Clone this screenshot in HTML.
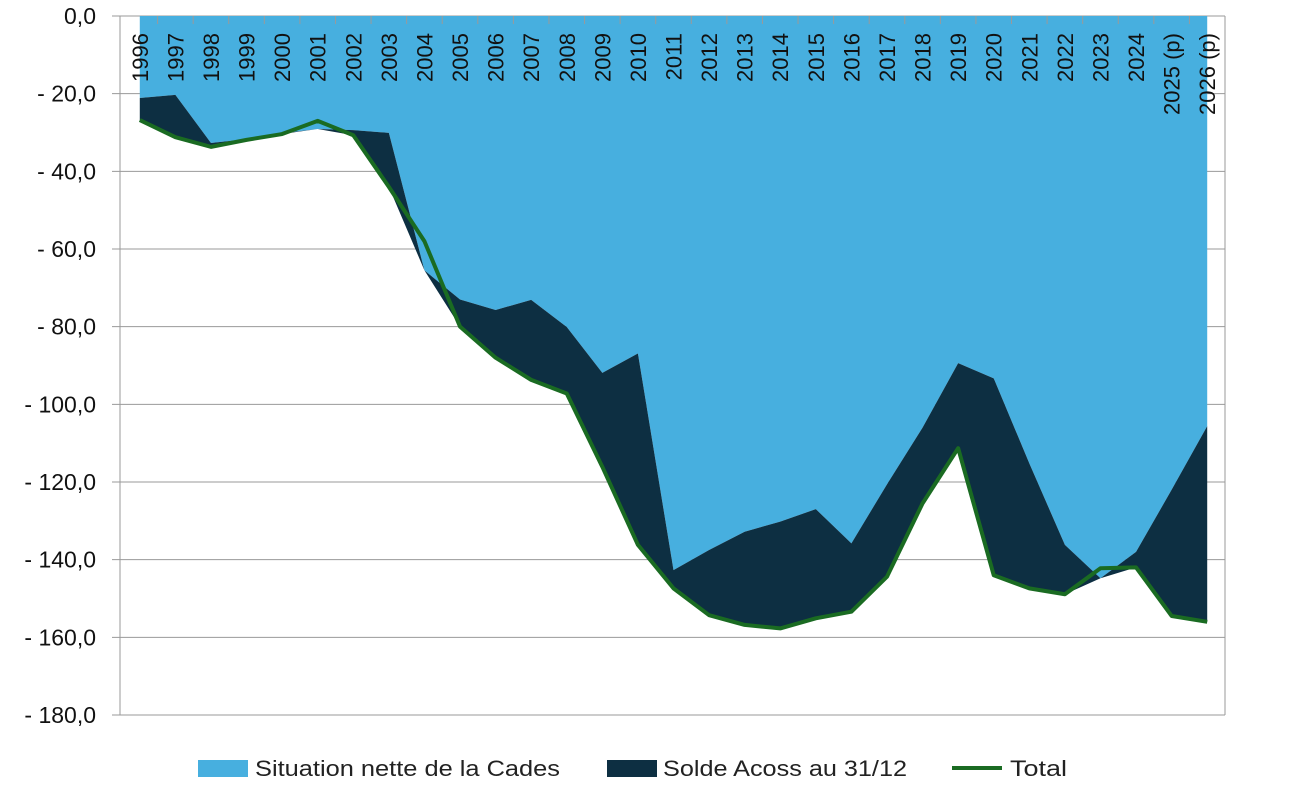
<!DOCTYPE html>
<html><head><meta charset="utf-8"><style>
html,body{margin:0;padding:0;background:#fff;}
svg{display:block;font-family:"Liberation Sans",sans-serif;}
</style></head><body>
<svg id="chart" width="1300" height="802" viewBox="0 0 1300 802">
<g id="grid"></g><g id="areas"></g><g id="line"></g><g id="axes"></g><g id="xlabels"></g><g id="ylabels"></g>
<g id="legend">
 <rect x="198" y="760" width="50" height="17" fill="#47AFDF"/>
 <text x="255" y="776" font-size="22" textLength="305" lengthAdjust="spacingAndGlyphs" fill="#222">Situation nette de la Cades</text>
 <rect x="607" y="760" width="50" height="17" fill="#0D2F42"/>
 <text x="663" y="776" font-size="22" textLength="244" lengthAdjust="spacingAndGlyphs" fill="#222">Solde Acoss au 31/12</text>
 <line x1="952" y1="768" x2="1002" y2="768" stroke="#1A6B22" stroke-width="4"/>
 <text x="1010" y="776" font-size="22" textLength="57" lengthAdjust="spacingAndGlyphs" fill="#222">Total</text>
</g>
</svg>
<script>
const years = ["1996","1997","1998","1999","2000","2001","2002","2003","2004","2005","2006","2007","2008","2009","2010","2011","2012","2013","2014","2015","2016","2017","2018","2019","2020","2021","2022","2023","2024","2025 (p)","2026 (p)"];
const cades = [-21.1,-20.3,-32.7,-31.7,-30.2,-29.1,-29.4,-30.1,-65.5,-73,-75.7,-73.1,-80.1,-91.9,-86.9,-142.7,-137.5,-132.8,-130.2,-127,-135.8,-120.6,-106,-89.4,-93.3,-115.2,-136.2,-144.8,-138,-122,-105.6];
const acoss = [-5.7,-10.9,-1.0,-0.2,-0.2,2.1,-1.3,-13.9,7.5,-7,-12.3,-20.6,-17.1,-24.2,-49.3,-4.7,-16.8,-24,-27.5,-28.1,-17.6,-23.8,-19.5,-21.9,-50.7,-32.2,-12.7,2.6,-4,-32.5,-50.4];
const yTicks = [0,-20,-40,-60,-80,-100,-120,-140,-160,-180];

const L=122,R=1225,T=16,B=715,yMin=-180,yMax=0;
const n=years.length, band=(R-L)/n;
const X=i=>L+band*(i+0.5);
const Y=v=>T+(yMax-v)/(yMax-yMin)*(B-T);
const NS="http://www.w3.org/2000/svg";
function mk(tag,parent,attrs){const e=document.createElementNS(NS,tag);for(const k in attrs)e.setAttribute(k,attrs[k]);document.getElementById(parent).appendChild(e);return e;}

yTicks.forEach(t=>{
  const g=mk('line','grid',{x1:112,x2:R,y1:Y(t),y2:Y(t),stroke:'#9a9a9a','stroke-width':1});
  
  
  const lab=(t===0?"0,0":"- "+Math.abs(t)+",0");
  const tx=mk('text','ylabels',{x:96,y:Y(t)+8,'text-anchor':'end','font-size':23,fill:'#111'});
  tx.textContent=lab;
  
  
});

let p="M"+X(0)+","+Y(0);
cades.forEach((v,i)=>p+=" L"+X(i)+","+Y(v));
p+=" L"+X(n-1)+","+Y(0)+" Z";
const a1=mk('path','areas',{d:p,fill:'#47AFDF'});


let q="M"+X(0)+","+Y(cades[0]);
cades.forEach((v,i)=>q+=" L"+X(i)+","+Y(v));
for(let i=n-1;i>=0;i--)q+=" L"+X(i)+","+Y(cades[i]+Math.min(0,acoss[i]));
q+=" Z";
const a2=mk('path','areas',{d:q,fill:'#0D2F42'});


const tot=cades.map((v,i)=>v+acoss[i]);
const ln=mk('polyline','line',{points:tot.map((v,i)=>X(i)+","+Y(v)).join(" "),fill:'none',stroke:'#1A6B22','stroke-width':4,'stroke-linejoin':'round'});



const ax=mk('line','axes',{x1:120,x2:120,y1:T,y2:B,stroke:'#9a9a9a','stroke-width':1});


const rx=mk('line','axes',{x1:R,x2:R,y1:T,y2:B,stroke:'#9a9a9a','stroke-width':1});


for(let i=1;i<n;i++){
  const tk=mk('line','axes',{x1:L+band*i,x2:L+band*i,y1:T,y2:T+8,stroke:'#9a9a9a','stroke-width':1});
  
  
}

years.forEach((y,i)=>{
  const x=X(i)+8,yy=33;
  const t=mk('text','xlabels',{x:x,y:yy,'text-anchor':'end','font-size':22,fill:'#111',transform:'rotate(-90 '+x+' '+yy+')'});
  t.textContent=y;
  
  
});
</script>
</body></html>
